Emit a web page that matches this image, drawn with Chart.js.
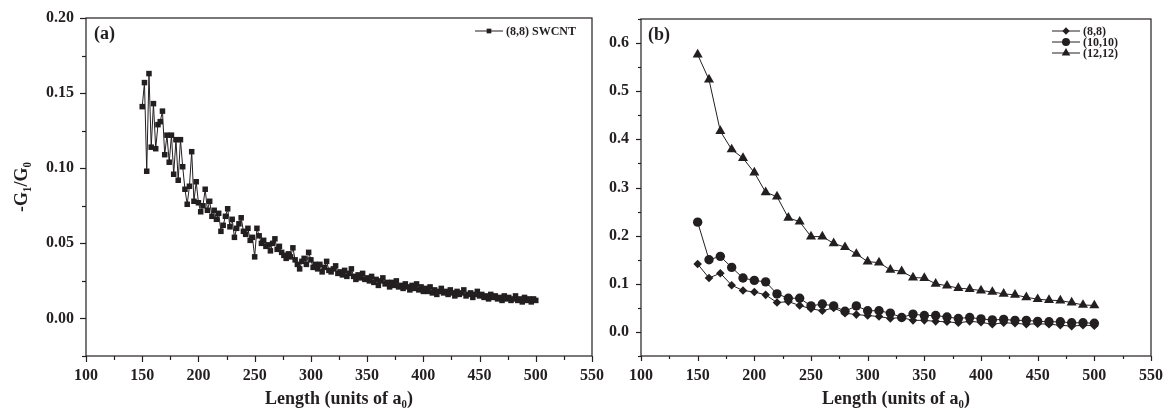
<!DOCTYPE html>
<html>
<head>
<meta charset="utf-8">
<script src="https://cdn.jsdelivr.net/npm/chart.js@4.4.1/dist/chart.umd.min.js"></script>
<style>
html, body { margin: 0; padding: 0; background: #fff; }
#wrap { position: relative; width: 1166px; height: 415px; overflow: hidden; }
canvas { position: absolute; top: 0; }
</style>
</head>
<body>
<div id="wrap">
<canvas id="panelA" width="620" height="415" style="left:0px"></canvas>
<canvas id="panelB" width="586" height="415" style="left:580px"></canvas>
</div>
<script>
const INK = '#231f20';
const SERIF = "'Liberation Serif', 'DejaVu Serif', serif";

// panel (a): (8,8) SWCNT, one point every 2 a0 from 150 to 500
const lengthA = [];
for (let L = 150; L <= 500; L += 2) lengthA.push(L);
const swcnt88 = [
    0.141, 0.157, 0.098, 0.163, 0.114, 0.143, 0.113, 0.129, 0.131, 0.138,
    0.109, 0.122, 0.104, 0.122, 0.096, 0.119, 0.092, 0.119, 0.101, 0.086,
    0.076, 0.088, 0.111, 0.078, 0.091, 0.077,
    0.071, 0.075, 0.086, 0.072, 0.078, 0.068, 0.072, 0.066, 0.070, 0.058,
    0.062, 0.068, 0.073, 0.061, 0.066, 0.054, 0.060, 0.063, 0.067, 0.058,
    0.056, 0.060, 0.052, 0.054, 0.041,
    0.060, 0.055, 0.050, 0.052, 0.048, 0.049, 0.045, 0.050, 0.053, 0.046,
    0.048, 0.044, 0.042, 0.040, 0.043, 0.041, 0.047, 0.039, 0.036, 0.033,
    0.038, 0.040, 0.036, 0.044, 0.039,
    0.034, 0.036, 0.033, 0.036, 0.031, 0.034, 0.038, 0.032, 0.031, 0.033,
    0.035, 0.030, 0.031, 0.029, 0.032, 0.028, 0.030, 0.033, 0.028, 0.026,
    0.029, 0.027, 0.030, 0.026, 0.027,
    0.025, 0.028, 0.024, 0.026, 0.022, 0.025, 0.027, 0.023, 0.024, 0.021,
    0.024, 0.022, 0.025, 0.021, 0.022, 0.020, 0.023, 0.021, 0.019, 0.022,
    0.020, 0.023, 0.019, 0.021, 0.018,
    0.020, 0.018, 0.021, 0.017, 0.019, 0.016, 0.018, 0.020, 0.017, 0.018,
    0.016, 0.019, 0.017, 0.015, 0.018, 0.016, 0.017, 0.019, 0.015, 0.016,
    0.017, 0.014, 0.016, 0.018, 0.015,
    0.016, 0.014, 0.015, 0.013, 0.016, 0.014, 0.015, 0.013, 0.014, 0.012,
    0.015, 0.013, 0.014, 0.012, 0.013, 0.015, 0.012, 0.013, 0.011, 0.014,
    0.012, 0.013, 0.011, 0.013, 0.012
];

// panel (b): three tubes, every 10 a0
const lengthB = [150, 160, 170, 180, 190, 200, 210, 220, 230, 240, 250, 260,
    270, 280, 290, 300, 310, 320, 330, 340, 350, 360, 370, 380, 390, 400, 410,
    420, 430, 440, 450, 460, 470, 480, 490, 500];
const tube88 = [0.141, 0.112, 0.122, 0.097, 0.086, 0.083, 0.077, 0.061, 0.063, 0.055,
    0.048, 0.044, 0.050, 0.039, 0.036, 0.034, 0.032, 0.028, 0.030, 0.024,
    0.024, 0.022, 0.021, 0.019, 0.022, 0.020, 0.016, 0.019, 0.018, 0.016,
    0.017, 0.016, 0.014, 0.012, 0.014, 0.013];
const tube1010 = [0.228, 0.150, 0.157, 0.134, 0.112, 0.107, 0.104, 0.079, 0.070, 0.070,
    0.054, 0.058, 0.054, 0.043, 0.054, 0.044, 0.044, 0.039, 0.030, 0.037,
    0.034, 0.034, 0.031, 0.028, 0.030, 0.027, 0.025, 0.026, 0.024, 0.024,
    0.022, 0.021, 0.021, 0.019, 0.019, 0.018];
const tube1212 = [0.576, 0.524, 0.417, 0.379, 0.361, 0.331, 0.290, 0.281, 0.237, 0.229,
    0.198, 0.198, 0.184, 0.176, 0.162, 0.146, 0.144, 0.129, 0.126, 0.113,
    0.112, 0.100, 0.096, 0.091, 0.089, 0.086, 0.083, 0.079, 0.077, 0.072,
    0.068, 0.066, 0.065, 0.061, 0.056, 0.055];

const lengthTicks = ['100', '150', '200', '250', '300', '350', '400', '450', '500', '550'];
const ratioTicksA = ['0.00', '0.05', '0.10', '0.15', '0.20'];
const ratioTicksB = ['0.0', '0.1', '0.2', '0.3', '0.4', '0.5', '0.6'];

function pickLabel(list, v) {
    const hit = list.find(s => Math.abs(Number(s) - v) < 1e-6);
    return hit === undefined ? '' : hit;
}
function points(xs, ys) {
    return xs.map((x, i) => ({ x: x, y: ys[i] }));
}
function bold(size) {
    return { family: SERIF, size: size, weight: 'bold' };
}

// box around the plot, major/minor tick marks, panel tag and Origin-style legend
const frame = {
    id: 'frame',
    afterDraw(chart, args, o) {
        const ctx = chart.ctx;
        const a = chart.chartArea;
        const xs = chart.scales.x, ys = chart.scales.y;
        ctx.save();
        ctx.strokeStyle = INK;
        ctx.lineWidth = 1.2;
        ctx.strokeRect(a.left, a.top, a.right - a.left, a.bottom - a.top);
        xs.ticks.forEach(t => {
            const px = Math.round(xs.getPixelForValue(t.value)) + 0.5;
            ctx.beginPath();
            ctx.moveTo(px, a.bottom);
            ctx.lineTo(px, a.bottom + (t.label ? o.major : o.minor));
            ctx.stroke();
        });
        ys.ticks.forEach(t => {
            const py = Math.round(ys.getPixelForValue(t.value)) + 0.5;
            ctx.beginPath();
            ctx.moveTo(a.left, py);
            ctx.lineTo(a.left - (t.label ? o.major : o.minor), py);
            ctx.stroke();
        });

        ctx.fillStyle = INK;
        ctx.textBaseline = 'middle';
        ctx.textAlign = 'left';
        ctx.font = 'bold 18px ' + SERIF;
        ctx.fillText(o.tag, a.left + o.tagDx, a.top + 16);

        ctx.font = 'bold 12px ' + SERIF;
        chart.data.datasets.forEach((ds, i) => {
            const y = o.legendY + i * o.legendGap;
            const x0 = o.legendX;
            ctx.lineWidth = 1;
            ctx.beginPath();
            ctx.moveTo(x0, y);
            ctx.lineTo(x0 + 28, y);
            ctx.stroke();
            Chart.helpers.drawPoint(ctx, {
                pointStyle: ds.pointStyle, radius: ds.pointRadius * 0.85,
                rotation: 0, borderWidth: 0
            }, x0 + 14, y);
            ctx.fillText(ds.label, x0 + 31, y + 1);
        });
        ctx.restore();
    }
};

function series(label, xs, ys, style, radius) {
    return {
        label: label,
        data: points(xs, ys),
        borderColor: INK,
        backgroundColor: INK,
        borderWidth: 1,
        pointStyle: style,
        pointRadius: radius,
        pointBorderWidth: 0,
        pointBackgroundColor: INK,
        tension: 0
    };
}

function axes(yMin, yMax, yStep, yLabels, yWidth, yTitle) {
    return {
        x: {
            type: 'linear', min: 100, max: 550,
            afterFit: s => { s.height = 59; s.paddingLeft = 0; s.paddingRight = 0; },
            grid: { display: false, drawTicks: true, tickLength: 6 },
            border: { display: false },
            ticks: {
                stepSize: 25, autoSkip: false, maxRotation: 0, padding: 4,
                color: INK, font: bold(16),
                callback: v => pickLabel(lengthTicks, v)
            },
            title: {
                display: true, text: 'Length (units of a₀)', color: INK,
                font: bold(18), padding: { top: 0, bottom: 5 }
            }
        },
        y: {
            type: 'linear', min: yMin, max: yMax,
            afterFit: s => { s.width = yWidth; },
            grid: { display: false, drawTicks: true, tickLength: 6 },
            border: { display: false },
            ticks: {
                stepSize: yStep, autoSkip: false, padding: 6,
                color: INK, font: bold(16),
                callback: v => pickLabel(yLabels, v)
            },
            title: {
                display: yTitle !== '', text: yTitle, color: INK,
                font: bold(18), padding: { top: 12, bottom: 0 }
            }
        }
    };
}

new Chart(document.getElementById('panelA'), {
    type: 'line',
    data: {
        datasets: [series('(8,8) SWCNT', lengthA, swcnt88, 'rect', 3.9)]
    },
    options: {
        responsive: false,
        animation: false,
        devicePixelRatio: 1,
        layout: { padding: { left: 0, right: 28, top: 18, bottom: 0 } },
        plugins: {
            legend: { display: false },
            tooltip: { enabled: false },
            frame: { major: 6, minor: 4, tag: '(a)', tagDx: 8, legendX: 475, legendY: 31, legendGap: 10 }
        },
        scales: axes(-0.025, 0.2, 0.025, ratioTicksA, 86, '-G₁/G₀')
    },
    plugins: [frame]
});

new Chart(document.getElementById('panelB'), {
    type: 'line',
    data: {
        datasets: [
            series('(8,8)', lengthB, tube88, 'rectRot', 4.3),
            series('(10,10)', lengthB, tube1010, 'circle', 4.7),
            series('(12,12)', lengthB, tube1212, 'triangle', 5.8)
        ]
    },
    options: {
        responsive: false,
        animation: false,
        devicePixelRatio: 1,
        layout: { padding: { left: 0, right: 15, top: 19, bottom: 0 } },
        plugins: {
            legend: { display: false },
            tooltip: { enabled: false },
            frame: { major: 5, minor: 3, tag: '(b)', tagDx: 7, legendX: 472, legendY: 31, legendGap: 11 }
        },
        scales: axes(-0.05, 0.65, 0.05, ratioTicksB, 61, '')
    },
    plugins: [frame]
});
</script>
</body>
</html>
